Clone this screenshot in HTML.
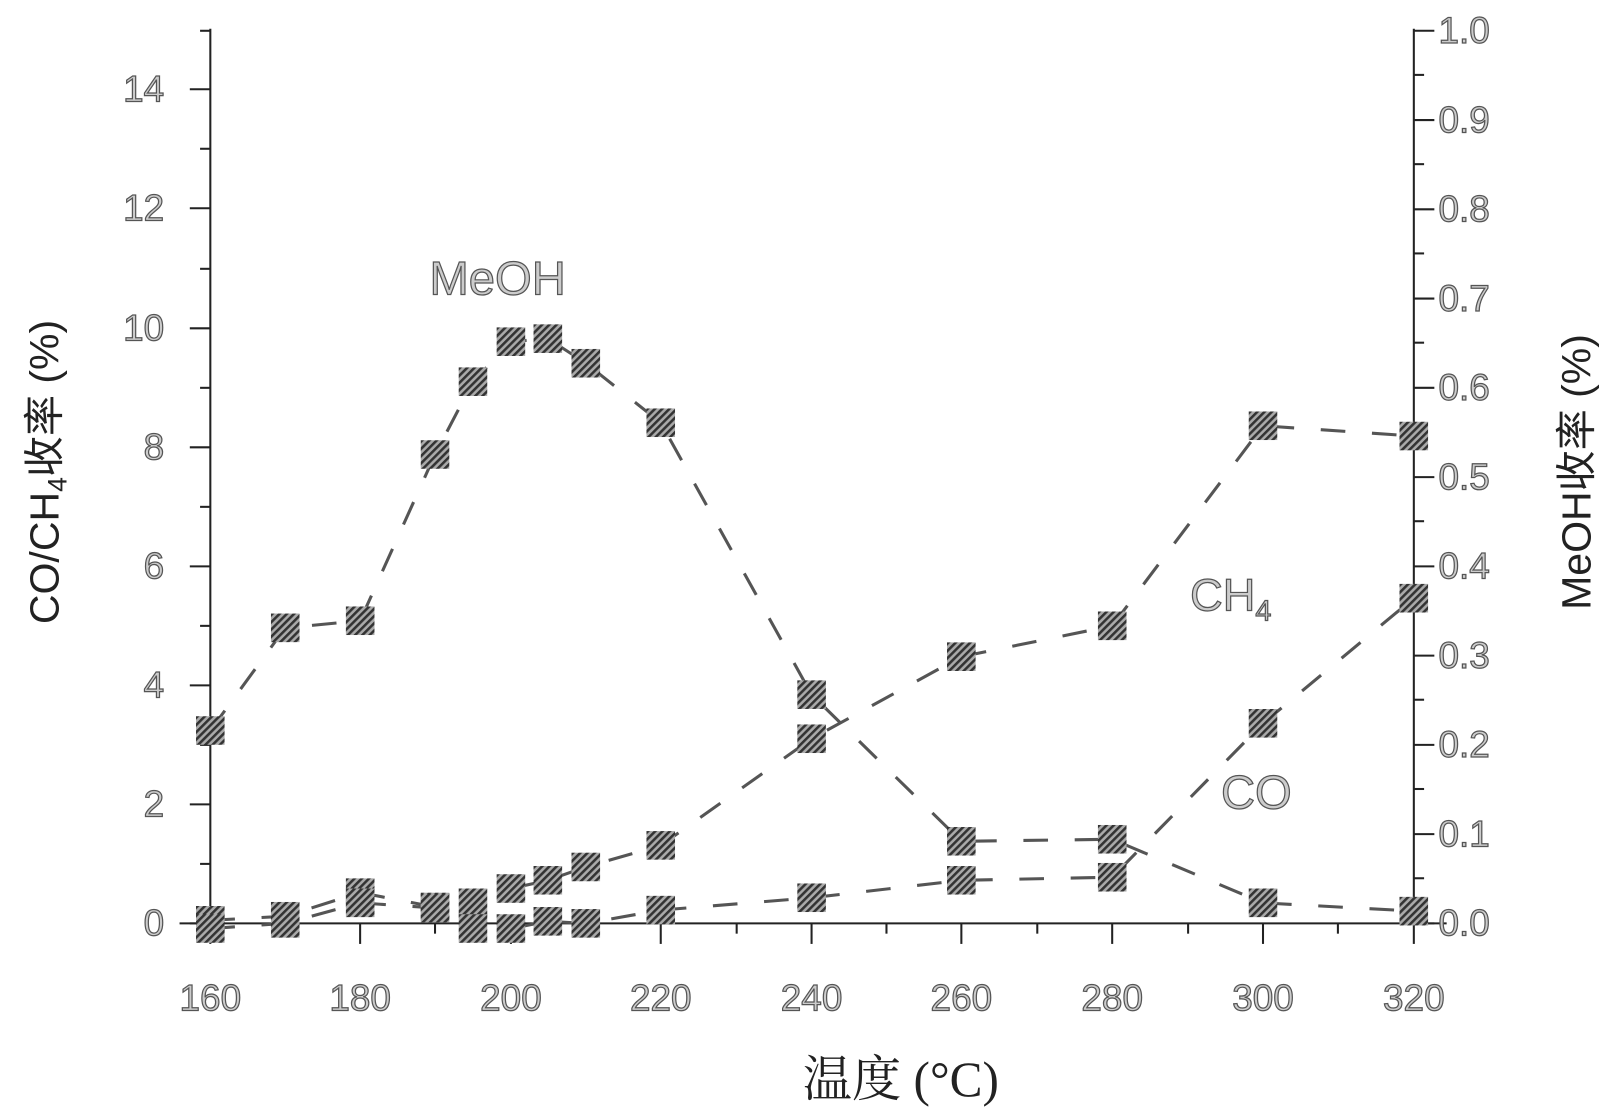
<!DOCTYPE html>
<html><head><meta charset="utf-8"><style>
html,body{margin:0;padding:0;background:#fff;}
svg{display:block;font-family:"Liberation Sans","Noto Sans CJK SC",sans-serif;}
.t{fill:#ccc;stroke:#555;stroke-width:1.2;font-size:36px;}
</style></head><body>
<svg width="1608" height="1116" viewBox="0 0 1608 1116" xmlns="http://www.w3.org/2000/svg">
<defs>
<pattern id="h" width="5" height="5" patternUnits="userSpaceOnUse" patternTransform="rotate(45)">
<rect width="5" height="5" fill="#aaa"/><rect width="2.5" height="5" fill="#333"/>
</pattern>
<symbol id="m" viewBox="0 0 28 28"><rect width="28" height="28" fill="url(#h)"/></symbol>
</defs>
<g transform="scale(1.026)">
<g stroke="#222" stroke-width="2" fill="none">
<line x1="205" y1="28" x2="205" y2="902"/>
<line x1="1378" y1="28" x2="1378" y2="902"/>
<line x1="175" y1="900" x2="1410" y2="900"/>
</g>
<g stroke="#222" stroke-width="2">
<line x1="185" y1="900" x2="205" y2="900"/><line x1="185" y1="784" x2="205" y2="784"/><line x1="185" y1="668" x2="205" y2="668"/><line x1="185" y1="552" x2="205" y2="552"/><line x1="185" y1="436" x2="205" y2="436"/><line x1="185" y1="320" x2="205" y2="320"/><line x1="185" y1="203" x2="205" y2="203"/><line x1="185" y1="87" x2="205" y2="87"/>
<line x1="195" y1="842" x2="205" y2="842"/><line x1="195" y1="726" x2="205" y2="726"/><line x1="195" y1="610" x2="205" y2="610"/><line x1="195" y1="494" x2="205" y2="494"/><line x1="195" y1="378" x2="205" y2="378"/><line x1="195" y1="262" x2="205" y2="262"/><line x1="195" y1="145" x2="205" y2="145"/><line x1="195" y1="30" x2="205" y2="30"/>
<line x1="1378" y1="900" x2="1398" y2="900"/><line x1="1378" y1="813" x2="1398" y2="813"/><line x1="1378" y1="726" x2="1398" y2="726"/><line x1="1378" y1="639" x2="1398" y2="639"/><line x1="1378" y1="552" x2="1398" y2="552"/><line x1="1378" y1="465" x2="1398" y2="465"/><line x1="1378" y1="378" x2="1398" y2="378"/><line x1="1378" y1="291" x2="1398" y2="291"/><line x1="1378" y1="204" x2="1398" y2="204"/><line x1="1378" y1="117" x2="1398" y2="117"/><line x1="1378" y1="30" x2="1398" y2="30"/>
<line x1="1378" y1="856" x2="1388" y2="856"/><line x1="1378" y1="769" x2="1388" y2="769"/><line x1="1378" y1="682" x2="1388" y2="682"/><line x1="1378" y1="595" x2="1388" y2="595"/><line x1="1378" y1="508" x2="1388" y2="508"/><line x1="1378" y1="421" x2="1388" y2="421"/><line x1="1378" y1="334" x2="1388" y2="334"/><line x1="1378" y1="247" x2="1388" y2="247"/><line x1="1378" y1="160" x2="1388" y2="160"/><line x1="1378" y1="73" x2="1388" y2="73"/>
<line x1="205" y1="900" x2="205" y2="920"/><line x1="351" y1="900" x2="351" y2="920"/><line x1="498" y1="900" x2="498" y2="920"/><line x1="644" y1="900" x2="644" y2="920"/><line x1="791" y1="900" x2="791" y2="920"/><line x1="937" y1="900" x2="937" y2="920"/><line x1="1084" y1="900" x2="1084" y2="920"/><line x1="1231" y1="900" x2="1231" y2="920"/><line x1="1378" y1="900" x2="1378" y2="920"/>
<line x1="278" y1="900" x2="278" y2="910"/><line x1="424" y1="900" x2="424" y2="910"/><line x1="571" y1="900" x2="571" y2="910"/><line x1="718" y1="900" x2="718" y2="910"/><line x1="864" y1="900" x2="864" y2="910"/><line x1="1011" y1="900" x2="1011" y2="910"/><line x1="1158" y1="900" x2="1158" y2="910"/><line x1="1304" y1="900" x2="1304" y2="910"/>
</g>
<g fill="none" stroke="#555" stroke-width="3" stroke-dasharray="24 26">
<polyline points="205,712 278,612 351,605 424,443 461,372 498,333 534,330 571,354 644,412 791,677 937,820 1084,818 1231,880 1378,888"/>
<polyline points="205,897 278,893 351,870 424,884 461,880 498,866 534,858 571,845 644,824 791,720 937,640 1084,610 1231,415 1378,425"/>
<polyline points="205,905 278,900 351,880 424,885 461,905 498,905 534,898 571,900 644,887 791,875 937,858 1084,855 1231,705 1378,583"/>
</g>
<g>
<use href="#m" x="191" y="698" width="28" height="28"/><use href="#m" x="264" y="598" width="28" height="28"/><use href="#m" x="337" y="591" width="28" height="28"/><use href="#m" x="410" y="429" width="28" height="28"/><use href="#m" x="447" y="358" width="28" height="28"/><use href="#m" x="484" y="319" width="28" height="28"/><use href="#m" x="520" y="316" width="28" height="28"/><use href="#m" x="557" y="340" width="28" height="28"/><use href="#m" x="630" y="398" width="28" height="28"/><use href="#m" x="777" y="663" width="28" height="28"/><use href="#m" x="923" y="806" width="28" height="28"/><use href="#m" x="1070" y="804" width="28" height="28"/><use href="#m" x="1217" y="866" width="28" height="28"/><use href="#m" x="1364" y="874" width="28" height="28"/>
<use href="#m" x="191" y="883" width="28" height="28"/><use href="#m" x="264" y="879" width="28" height="28"/><use href="#m" x="337" y="856" width="28" height="28"/><use href="#m" x="410" y="870" width="28" height="28"/><use href="#m" x="447" y="866" width="28" height="28"/><use href="#m" x="484" y="852" width="28" height="28"/><use href="#m" x="520" y="844" width="28" height="28"/><use href="#m" x="557" y="831" width="28" height="28"/><use href="#m" x="630" y="810" width="28" height="28"/><use href="#m" x="777" y="706" width="28" height="28"/><use href="#m" x="923" y="626" width="28" height="28"/><use href="#m" x="1070" y="596" width="28" height="28"/><use href="#m" x="1217" y="401" width="28" height="28"/><use href="#m" x="1364" y="411" width="28" height="28"/>
<use href="#m" x="191" y="891" width="28" height="28"/><use href="#m" x="264" y="886" width="28" height="28"/><use href="#m" x="337" y="866" width="28" height="28"/><use href="#m" x="410" y="871" width="28" height="28"/><use href="#m" x="447" y="891" width="28" height="28"/><use href="#m" x="484" y="891" width="28" height="28"/><use href="#m" x="520" y="884" width="28" height="28"/><use href="#m" x="557" y="886" width="28" height="28"/><use href="#m" x="630" y="873" width="28" height="28"/><use href="#m" x="777" y="861" width="28" height="28"/><use href="#m" x="923" y="844" width="28" height="28"/><use href="#m" x="1070" y="841" width="28" height="28"/><use href="#m" x="1217" y="691" width="28" height="28"/><use href="#m" x="1364" y="569" width="28" height="28"/>
</g>
<g class="t" text-anchor="end">
<text x="160" y="912">0</text><text x="160" y="796">2</text><text x="160" y="680">4</text><text x="160" y="564">6</text><text x="160" y="448">8</text><text x="160" y="332">10</text><text x="160" y="215">12</text><text x="160" y="99">14</text>
</g>
<g class="t" text-anchor="start">
<text x="1402" y="912">0.0</text><text x="1402" y="825">0.1</text><text x="1402" y="738">0.2</text><text x="1402" y="651">0.3</text><text x="1402" y="564">0.4</text><text x="1402" y="477">0.5</text><text x="1402" y="390">0.6</text><text x="1402" y="303">0.7</text><text x="1402" y="216">0.8</text><text x="1402" y="129">0.9</text><text x="1402" y="42">1.0</text>
</g>
<g class="t" text-anchor="middle">
<text x="205" y="985">160</text><text x="351" y="985">180</text><text x="498" y="985">200</text><text x="644" y="985">220</text><text x="791" y="985">240</text><text x="937" y="985">260</text><text x="1084" y="985">280</text><text x="1231" y="985">300</text><text x="1378" y="985">320</text>
</g>
<text class="t" x="485" y="287" text-anchor="middle" style="font-size:46px">MeOH</text>
<text class="t" x="1160" y="595" style="font-size:44px">CH<tspan font-size="28" dy="10">4</tspan></text>
<text class="t" x="1190" y="788" style="font-size:46px">CO</text>
<text x="57" y="460" transform="rotate(-90 57 460)" text-anchor="middle" font-size="40" fill="#222">CO/CH<tspan font-size="26" dy="8">4</tspan><tspan dy="-8">收率 (%)</tspan></text>
<text x="1550" y="460" transform="rotate(-90 1550 460)" text-anchor="middle" font-size="40" fill="#222">MeOH收率 (%)</text>
<text x="878" y="1068" text-anchor="middle" font-size="48" fill="#222" font-family="'Liberation Serif','Noto Serif CJK SC',serif">温度 (°C)</text>
</g>
</svg>
</body></html>
